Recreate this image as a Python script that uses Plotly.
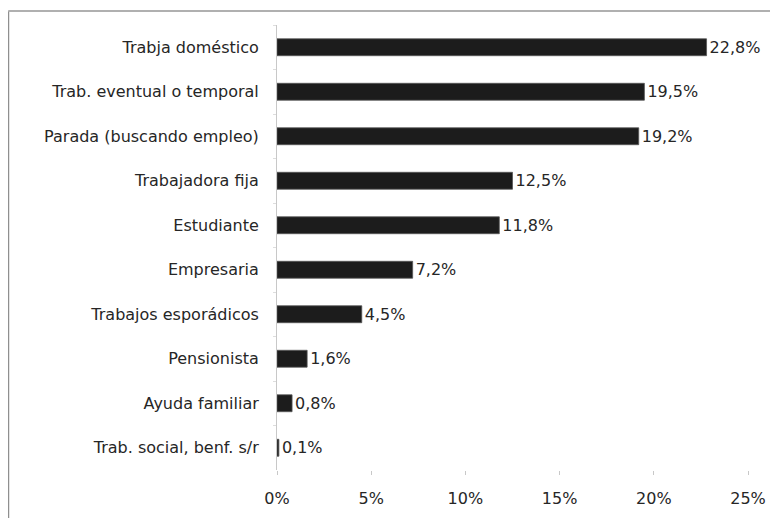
import plotly.graph_objects as go

categories = [
    "Trabja doméstico",
    "Trab. eventual o temporal",
    "Parada (buscando empleo)",
    "Trabajadora fija",
    "Estudiante",
    "Empresaria",
    "Trabajos esporádicos",
    "Pensionista",
    "Ayuda familiar",
    "Trab. social, benf. s/r",
]
values = [22.8, 19.5, 19.2, 12.5, 11.8, 7.2, 4.5, 1.6, 0.8, 0.1]
value_labels = ["22,8%", "19,5%", "19,2%", "12,5%", "11,8%", "7,2%", "4,5%", "1,6%", "0,8%", "0,1%"]
x_ticks = [0, 5, 10, 15, 20, 25]
x_tick_labels = ["0%", "5%", "10%", "15%", "20%", "25%"]

# page body has an 8px margin; size the figure so it fills the window
W, H = 770, 510
L, R, T, B = 269, 30, 17, 48
pw, ph = W - L - R, H - T - B

font = dict(family="DejaVu Sans", size=16, color="#262626")

fig = go.Figure(go.Bar(
    x=values, y=categories, orientation="h",
    marker=dict(color="#1c1c1c", line=dict(color="#555555", width=0.8)),
    text=value_labels, textposition="outside", cliponaxis=False,
    constraintext="none", textfont=font,
))

bx = (0 - L) / pw + 0.0005
by = (H - B - 3) / ph
fig.add_shape(type="line", xref="paper", yref="paper", x0=bx, x1=bx, y0=by, y1=-0.2,
              line=dict(color="#8f8f8f", width=2))
fig.add_shape(type="line", xref="paper", yref="paper", x0=bx, x1=1.2, y0=by, y1=by,
              line=dict(color="#b0b0b0", width=2))

fig.update_layout(
    width=W, height=H,
    margin=dict(l=L, r=R, t=T, b=B, autoexpand=False),
    paper_bgcolor="white", plot_bgcolor="white",
    showlegend=False, bargap=0.62, font=font,
)
fig.update_xaxes(
    range=[0, 25], tickvals=x_ticks, ticktext=x_tick_labels,
    showgrid=False, zeroline=False, showline=False, automargin=False,
    ticks="outside", ticklen=4, tickcolor="#c8c8c8", ticklabelstandoff=10,
    tickfont=font,
)
fig.update_yaxes(
    autorange="reversed", showgrid=False, zeroline=False, automargin=False,
    showline=True, linecolor="#c8c8c8", linewidth=1,
    ticks="outside", tickson="boundaries", ticklen=3, tickcolor="#dddddd",
    ticklabelstandoff=14, tickfont=font,
)

fig.write_html("out.html")
